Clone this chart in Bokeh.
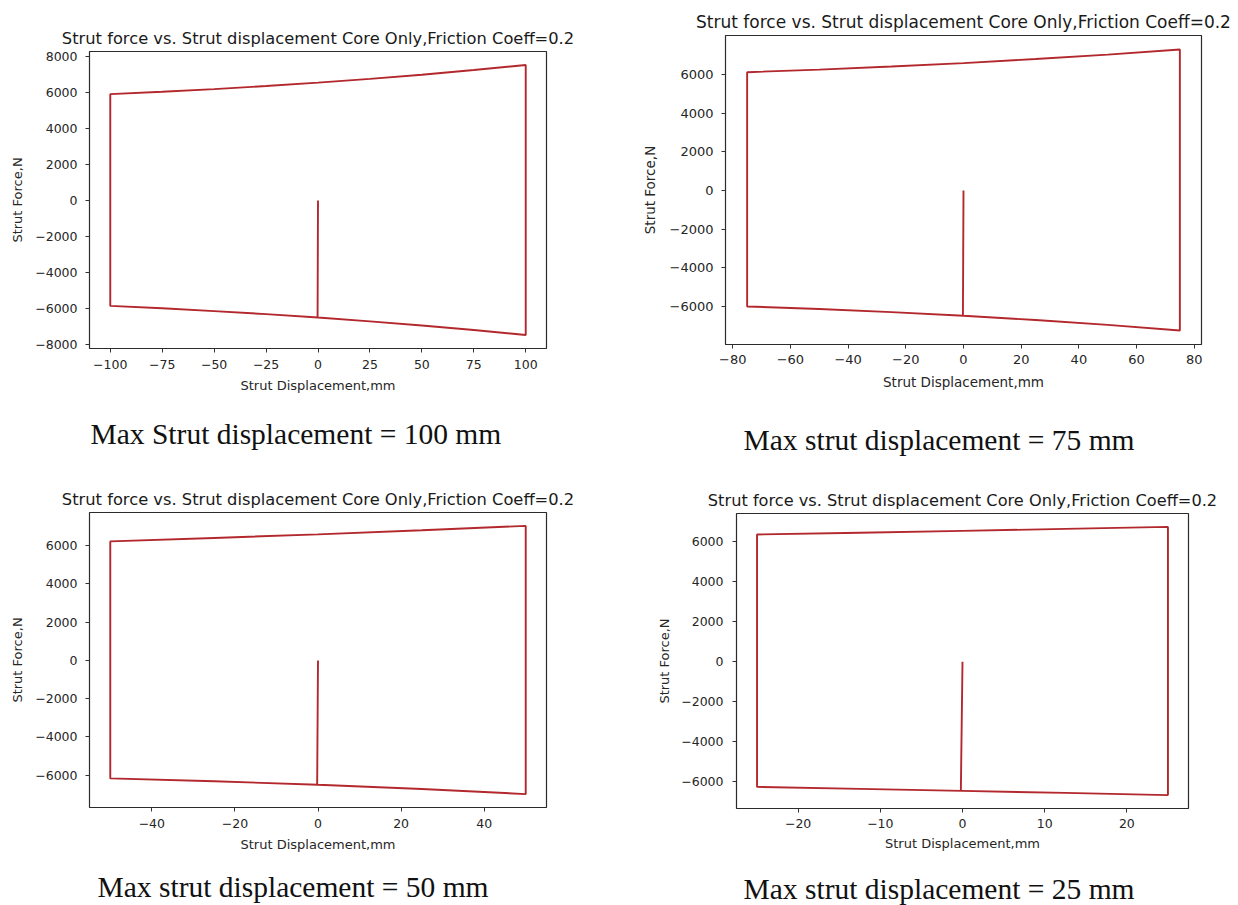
from bokeh.plotting import figure
from bokeh.layouts import column, row
from bokeh.models import Range1d, FixedTicker, LinearAxis, Title
from bokeh.embed import file_html
from bokeh.resources import INLINE

TITLE = "Strut force vs. Strut displacement Core Only,Friction Coeff=0.2"
X_LABEL = "Strut Displacement,mm"
Y_LABEL = "Strut Force,N"

# ---- Panel: max strut displacement 100 mm ----
disp_100 = [-100, -75, -50, -25, 0, 25, 50, 75, 100]
upper_100 = [5920, 6050, 6200, 6370, 6560, 6770, 7000, 7260, 7540]
lower_100 = [-5860, -5990, -6150, -6320, -6510, -6720, -6950, -7200, -7480]
elastic_x_100 = [0, -0.2]
elastic_f_100 = [0, -6510]
xticks_100 = [-100, -75, -50, -25, 0, 25, 50, 75, 100]
xlabels_100 = ["\u2212100", "\u221275", "\u221250", "\u221225", "0", "25", "50", "75", "100"]
yticks_100 = [-8000, -6000, -4000, -2000, 0, 2000, 4000, 6000, 8000]
ylabels_100 = ["\u22128000", "\u22126000", "\u22124000", "\u22122000", "0", "2000", "4000", "6000", "8000"]
caption_100 = "Max Strut displacement = 100 mm"

# ---- Panel: max strut displacement 75 mm ----
disp_75 = [-75, -50, -25, 0, 25, 50, 75]
upper_75 = [6110, 6240, 6400, 6580, 6790, 7020, 7280]
lower_75 = [-6000, -6130, -6290, -6480, -6700, -6950, -7240]
elastic_x_75 = [0, -0.2]
elastic_f_75 = [0, -6480]
xticks_75 = [-80, -60, -40, -20, 0, 20, 40, 60, 80]
xlabels_75 = ["\u221280", "\u221260", "\u221240", "\u221220", "0", "20", "40", "60", "80"]

# ---- Panel: max strut displacement 50 mm ----
disp_50 = [-50, -25, 0, 25, 50]
upper_50 = [6220, 6400, 6590, 6800, 7030]
lower_50 = [-6170, -6320, -6500, -6720, -6990]
elastic_x_50 = [0, -0.2]
elastic_f_50 = [0, -6500]
xticks_50 = [-40, -20, 0, 20, 40]
xlabels_50 = ["\u221240", "\u221220", "0", "20", "40"]

# ---- Panel: max strut displacement 25 mm ----
disp_25 = [-25, -12.5, 0, 12.5, 25]
upper_25 = [6370, 6460, 6550, 6650, 6750]
lower_25 = [-6270, -6370, -6470, -6570, -6680]
elastic_x_25 = [0, -0.2]
elastic_f_25 = [0, -6470]
xticks_25 = [-20, -10, 0, 10, 20]
xlabels_25 = ["\u221220", "\u221210", "0", "10", "20"]

yticks_small = [-6000, -4000, -2000, 0, 2000, 4000, 6000]
ylabels_small = ["\u22126000", "\u22124000", "\u22122000", "0", "2000", "4000", "6000"]

caption_75 = "Max strut displacement = 75 mm"
caption_50 = "Max strut displacement = 50 mm"
caption_25 = "Max strut displacement = 25 mm"

RED = "#b3282d"
INK = "#262626"


def loop_path(ex, ef, d, up, lo):
    i0 = d.index(0)
    xs = list(ex) + d[i0:] + d[::-1] + d[:i0 + 1]
    fs = list(ef) + lo[i0:] + up[::-1] + lo[:i0 + 1]
    return xs, fs


def make_panel(xs, fs, xticks, xlabels, yticks, ylabels, caption, g):
    xmin, xmax = min(xs), max(xs)
    ymin, ymax = min(fs), max(fs)
    xp = 0.05 * (xmax - xmin)
    yp = 0.05 * (ymax - ymin)
    W, H = g["W"], g["H"]
    p = figure(width=W, height=H, output_backend="svg", toolbar_location=None,
               x_range=Range1d(xmin - xp, xmax + xp), y_range=Range1d(ymin - yp, ymax + yp),
               min_border_left=g["L"], min_border_right=W - g["R"],
               min_border_top=g["T"], min_border_bottom=H - g["B"], title=TITLE)
    p.line(xs, fs, line_color=RED, line_width=1.9)
    p.grid.visible = False
    p.background_fill_color = "white"
    p.border_fill_color = "white"
    p.outline_line_color = "#2b2b2b"
    p.outline_line_width = 1.2
    p.outline_line_alpha = 1.0
    p.title.text = TITLE
    p.title.align = "center"
    p.title.text_font = "DejaVu Sans"
    p.title.text_font_size = g["tfs"]
    p.title.text_font_style = "normal"
    p.title.text_color = "#1a1a1a"
    p.title.standoff = g["tst"]
    for ax in (p.xaxis[0], p.yaxis[0]):
        ax.axis_line_color = None
        ax.major_tick_line_color = "#333333"
        ax.major_tick_in = 0
        ax.major_tick_out = 4
        ax.minor_tick_line_color = None
        ax.major_label_text_font = "DejaVu Sans"
        ax.major_label_text_font_size = g["lfs"]
        ax.major_label_text_color = INK
        ax.axis_label_text_font = "DejaVu Sans"
        ax.axis_label_text_font_size = g["afs"]
        ax.axis_label_text_font_style = "normal"
        ax.axis_label_text_color = INK
    p.xaxis.ticker = FixedTicker(ticks=xticks)
    p.xaxis.major_label_overrides = dict(zip(xticks, xlabels))
    p.yaxis.ticker = FixedTicker(ticks=yticks)
    p.yaxis.major_label_overrides = dict(zip(yticks, ylabels))
    p.xaxis.major_label_standoff = g["xlso"]
    p.yaxis.major_label_standoff = g["ylso"]
    p.xaxis.axis_label = X_LABEL
    p.xaxis.axis_label_standoff = g["xls"]
    p.yaxis.axis_label = Y_LABEL
    p.yaxis.axis_label_standoff = g["yls"]
    # invisible spacer between the x axis and the caption
    spacer = LinearAxis(ticker=FixedTicker(ticks=[0]), major_tick_out=g["S"], major_tick_in=0,
                        axis_line_color=None, major_tick_line_color="white",
                        minor_tick_line_color=None, major_label_text_color=None)
    p.add_layout(spacer, "below")
    cap = Title(text=caption, align="left", offset=g["off"], standoff=0,
                text_font="Liberation Serif", text_font_size="29.5px",
                text_font_style="normal", text_color="#111111")
    p.add_layout(cap, "below")
    return p


g1 = dict(W=619, H=460, L=89, R=546, T=51, B=348, tfs="16.3px", tst=8, lfs="12.5px",
          afs="13px", xlso=7, ylso=8, xls=6, yls=7, S=20, off=1)
g2 = dict(W=619, H=460, L=106, R=582, T=35, B=344, tfs="17px", tst=8, lfs="13px",
          afs="13.5px", xlso=6, ylso=8, xls=7, yls=9, S=29, off=18)
g3 = dict(W=619, H=445, L=89, R=546, T=52, B=347, tfs="16.3px", tst=8, lfs="12.5px",
          afs="13px", xlso=7, ylso=8, xls=6, yls=7, S=14, off=8)
g4 = dict(W=619, H=445, L=117, R=569, T=53, B=348, tfs="16.2px", tst=8, lfs="12.5px",
          afs="13px", xlso=6, ylso=9, xls=5, yls=6, S=17, off=7)

x1, f1 = loop_path(elastic_x_100, elastic_f_100, disp_100, upper_100, lower_100)
x2, f2 = loop_path(elastic_x_75, elastic_f_75, disp_75, upper_75, lower_75)
x3, f3 = loop_path(elastic_x_50, elastic_f_50, disp_50, upper_50, lower_50)
x4, f4 = loop_path(elastic_x_25, elastic_f_25, disp_25, upper_25, lower_25)

p1 = make_panel(x1, f1, xticks_100, xlabels_100, yticks_100, ylabels_100, caption_100, g1)
p2 = make_panel(x2, f2, xticks_75, xlabels_75, yticks_small, ylabels_small, caption_75, g2)
p3 = make_panel(x3, f3, xticks_50, xlabels_50, yticks_small, ylabels_small, caption_50, g3)
p4 = make_panel(x4, f4, xticks_25, xlabels_25, yticks_small, ylabels_small, caption_25, g4)

layout = column(row(column(p1), column(p2), spacing=0),
                row(column(p3), column(p4), spacing=0), spacing=0)

open("out.html", "w").write(file_html(layout, INLINE))
